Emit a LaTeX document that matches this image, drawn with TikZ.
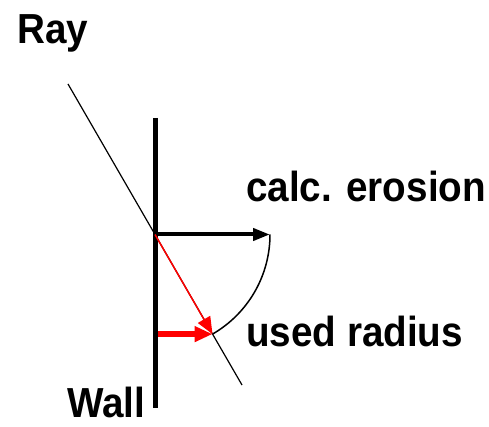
\documentclass[tikz,border=0pt]{standalone}
\usepackage{fontspec}
\setmainfont{Liberation Sans}
\usetikzlibrary{arrows.meta}
\definecolor{RayRed}{RGB}{255,0,0}
\newcommand{\narrow}[1]{\scalebox{0.92}[1]{#1}}

\begin{document}
\begin{tikzpicture}[
    x=1pt, y=-1pt,
    lbl/.style={font=\fontsize{42}{46}\selectfont\bfseries, inner sep=0pt, anchor=base west},
    wall/.style={line width=5pt},
    ray/.style={line width=1.2pt},
    arr/.style={-{Triangle[length=17pt,width=12pt]}, line width=4pt},
    arrr/.style={-{Triangle[length=17pt,width=14pt]}, line width=1.5pt, RayRed},
    arrt/.style={-{Triangle[length=18pt,width=15pt]}, line width=5.5pt, RayRed}
]
\useasboundingbox (0,0) rectangle (489,427);

% wall and ray
\coordinate (wtop) at (155,118); \coordinate (wbot) at (155,408);
\coordinate (rs) at (68,84);     \coordinate (re) at (242,385);
\coordinate (hit) at (155,234.5);
\coordinate (ero) at (270,234.5);
\coordinate (rad) at (212.5,334.1);
\coordinate (rw) at (157.5,334.1);
\draw[wall] (wtop)--(wbot);
\draw[ray] (rs)--(re);

% erosion and used radius
\draw[line width=1.5pt] (ero) arc[start angle=0, end angle=-60, radius=115pt];
\draw[arr] (hit)--(ero);
\draw[arrr] (hit)--(rad);
\draw[arrt] (rw)--(rad);

% labels
\node[lbl] (lray) at (17,44) {\narrow{Ray}};
\node[lbl] (lero) at (246,202) {\narrow{calc. erosion}};
\node[lbl] (lrad) at (246,346) {\narrow{used radius}};
\node[lbl] (lwall) at (67,417) {\narrow{Wall}};
\end{tikzpicture}
\end{document}
